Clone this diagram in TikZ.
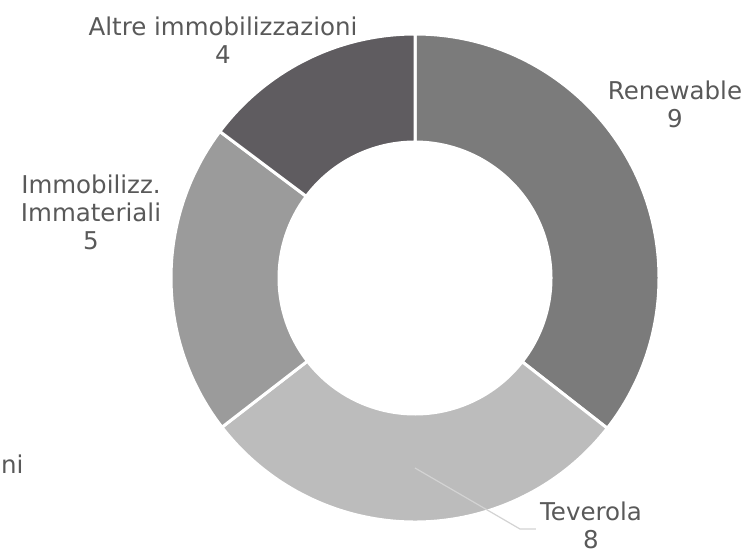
\documentclass[tikz,border=0pt]{standalone}
\usepackage{fontspec}
\setmainfont{DejaVu Sans}
\usepackage{tikz}
\usetikzlibrary{calc}

\definecolor{renew}{HTML}{7B7B7B}
\definecolor{tever}{HTML}{BCBCBC}
\definecolor{immat}{HTML}{9B9B9B}
\definecolor{altre}{HTML}{5F5C60}
\definecolor{lbltext}{HTML}{595959}
\definecolor{leadgray}{HTML}{D3D3D3}

\tikzset{
	lbl/.style={text=lbltext, align=center, inner sep=2pt,
		font=\fontsize{24.5}{28}\selectfont},
	leader/.style={leadgray, line width=1.2pt},
	slicesep/.style={draw=white, line width=3pt, line join=miter}
}

\begin{document}
\begin{tikzpicture}[x=1pt, y=1pt]

	\useasboundingbox (0,0) rectangle (742,-555);

	\def\R{244pt}
	\def\r{136pt}
	\coordinate (c) at (415,-278);

	% ring slices, clockwise from the top
	\foreach \a/\b/\col in {90/-38/renew, -38/-142.3/tever, -142.3/-216.9/immat, -216.9/-270/altre}
		{
			\fill[\col, slicesep] ($(c)+(\a:\R)$) arc (\a:\b:\R)
				-- ($(c)+(\b:\r)$) arc (\b:\a:\r) -- cycle;
		}

	% labels
	\node[lbl] (altr) at (223,-40) {Altre immobilizzazioni\\4};
	\node[lbl] (renw) at (675,-104) {Renewable\\9};
	\node[lbl] (imma) at (91,-212) {Immobilizz.\\Immateriali\\5};
	\node[lbl, inner sep=0pt] (tevr) at (591,-525) {Teverola\\8};
	\node[lbl, inner sep=0pt, anchor=west] (part) at (1,-464) {ni};

	% leader for Teverola
	\coordinate (tevpt) at (415,-468);
	\coordinate (tevbend) at (520,-529);
	\draw[leader] (tevpt) -- (tevbend) -- ([xshift=-4pt]tevbend -| tevr.west);

\end{tikzpicture}
\end{document}
